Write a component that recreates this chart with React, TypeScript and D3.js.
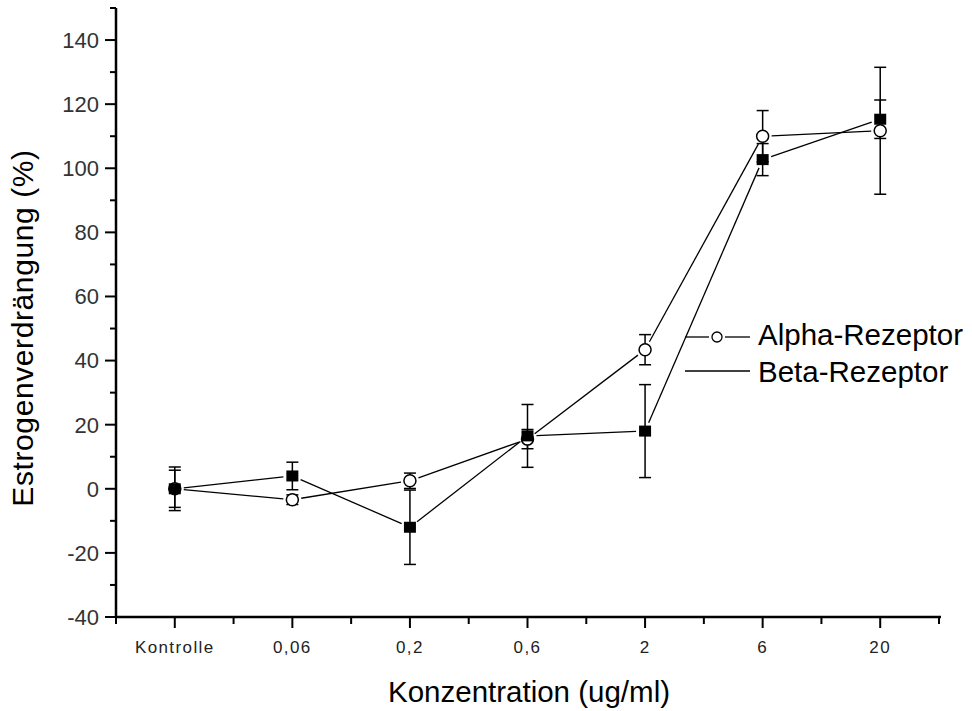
import React from 'react';
import * as d3 from 'd3';

const categories = ['Kontrolle', '0,06', '0,2', '0,6', '2', '6', '20'];
const alphaValues = [0, -3.4, 2.5, 15.5, 43.4, 110, 111.7];
const alphaErrors = [5.8, 1.5, 2.4, 3, 4.7, 8, 19.8];
const betaValues = [0, 4, -12, 16.5, 18, 102.7, 115.3];
const betaErrors = [6.8, 4.3, 11.6, 9.8, 14.5, 5, 6];
const yTicks = [-40, -20, 0, 20, 40, 60, 80, 100, 120, 140];
const yMinorTicks = [-30, -10, 10, 30, 50, 70, 90, 110, 130, 150];

const W = 972;
const H = 711;
const left = 116;
const right = 939;
const top = 8;
const bottom = 617;
const font = 'Arial, "Liberation Sans", sans-serif';

const x = d3.scalePoint<string>().domain(categories).range([left, right]).padding(0.5);
const y = d3.scaleLinear().domain([-40, 150]).range([bottom, top]);

// lines stop short of the markers, like the original plot
function gappedSegments(vals: number[], gap: number) {
  const segs: string[] = [];
  for (let i = 0; i < vals.length - 1; i++) {
    const x1 = x(categories[i])!, y1 = y(vals[i]);
    const x2 = x(categories[i + 1])!, y2 = y(vals[i + 1]);
    const len = Math.hypot(x2 - x1, y2 - y1);
    if (len <= gap * 2) continue;
    const ux = (x2 - x1) / len, uy = (y2 - y1) / len;
    segs.push(`M${x1 + ux * gap},${y1 + uy * gap}L${x2 - ux * gap},${y2 - uy * gap}`);
  }
  return segs;
}

const ErrorBars = ({ vals, errs }: { vals: number[]; errs: number[] }) => (
  <g stroke="#000" strokeWidth={1.5}>
    {vals.map((v, i) => {
      const cx = x(categories[i])!;
      const y0 = y(v - errs[i]);
      const y1 = y(v + errs[i]);
      return (
        <g key={i}>
          <line x1={cx} x2={cx} y1={y0} y2={y1} />
          <line x1={cx - 6} x2={cx + 6} y1={y0} y2={y0} />
          <line x1={cx - 6} x2={cx + 6} y1={y1} y2={y1} />
        </g>
      );
    })}
  </g>
);

export default function App() {
  const step = x.step();
  const minorX = d3.range(categories.length + 1).map(i => left + i * step);

  return (
    <svg width={W} height={H} style={{ position: 'absolute', left: 0, top: 0, background: '#fff' }}
      fontFamily={font}>
      <rect width={W} height={H} fill="#fff" />

      {/* data */}
      <g fill="none" stroke="#000" strokeWidth={1.3}>
        {gappedSegments(alphaValues, 9).map((d, i) => <path key={'a' + i} d={d} />)}
        {gappedSegments(betaValues, 9).map((d, i) => <path key={'b' + i} d={d} />)}
      </g>
      <ErrorBars vals={alphaValues} errs={alphaErrors} />
      <ErrorBars vals={betaValues} errs={betaErrors} />
      {alphaValues.map((v, i) => (
        <circle key={i} cx={x(categories[i])} cy={y(v)} r={6} fill="#fff" stroke="#000" strokeWidth={1.5} />
      ))}
      {betaValues.map((v, i) => (
        <rect key={i} x={x(categories[i])! - 6} y={y(v) - 5.5} width={12} height={11} fill="#000" />
      ))}

      {/* y axis */}
      <g stroke="#000">
        <line x1={left} x2={left} y1={top} y2={bottom + 1} strokeWidth={2.5} />
        {yTicks.map(t => <line key={t} x1={left - 11} x2={left} y1={y(t)} y2={y(t)} strokeWidth={2} />)}
        {yMinorTicks.map(t => <line key={t} x1={left - 6} x2={left} y1={y(t)} y2={y(t)} strokeWidth={2} />)}
      </g>
      <g fill="#333" fontSize={22} textAnchor="end">
        {yTicks.map(t => (
          <text key={t} x={left - 17} y={y(t)} dy="0.36em">{t}</text>
        ))}
      </g>

      {/* x axis */}
      <g stroke="#000">
        <line x1={left - 1} x2={right + 2} y1={bottom} y2={bottom} strokeWidth={2.5} />
        {categories.map(c => <line key={c} x1={x(c)} x2={x(c)} y1={bottom} y2={bottom + 11} strokeWidth={2} />)}
        {minorX.map((m, i) => <line key={i} x1={m} x2={m} y1={bottom} y2={bottom + 7} strokeWidth={2} />)}
      </g>
      <g fill="#222" fontSize={17} textAnchor="middle" letterSpacing={1.4}>
        {categories.map(c => (
          <text key={c} x={x(c)} y={653}>{c}</text>
        ))}
      </g>

      {/* titles */}
      <text x={529} y={702} fontSize={29.5} textAnchor="middle" fill="#000">Konzentration (ug/ml)</text>
      <text transform="translate(33,328) rotate(-90)" fontSize={30} letterSpacing={0.6}
        textAnchor="middle" fill="#000">Estrogenverdrängung (%)</text>

      {/* legend */}
      <g stroke="#000" strokeWidth={1.3}>
        <line x1={685} x2={709} y1={337} y2={337} />
        <circle cx={717} cy={337} r={5} fill="#fff" />
        <line x1={725} x2={750} y1={337} y2={337} />
        <line x1={685} x2={750} y1={371} y2={371} />
      </g>
      <text x={758} y={345} fontSize={29.5} fill="#000">Alpha-Rezeptor</text>
      <text x={758} y={382} fontSize={29.5} fill="#000">Beta-Rezeptor</text>
    </svg>
  );
}
